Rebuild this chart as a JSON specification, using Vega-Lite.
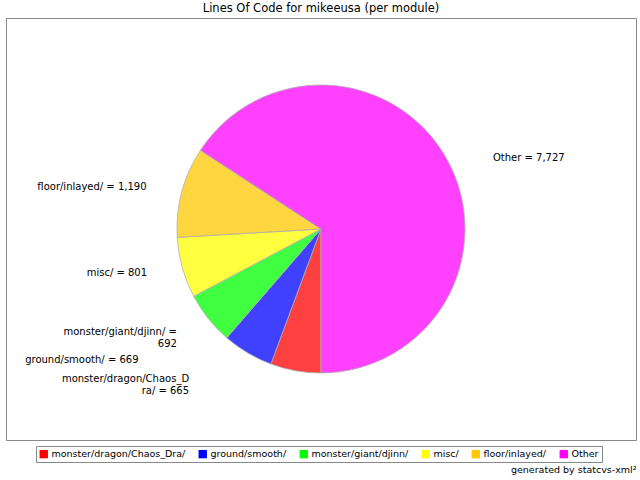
{
  "$schema": "https://vega.github.io/schema/vega-lite/v6.json",
  "background": "white",
  "padding": {"left": 5, "right": 5, "top": 2, "bottom": 3},
  "title": {"text": "generated by statcvs-xml²", "orient": "bottom", "anchor": "end", "fontSize": 9.5, "fontWeight": "normal", "font": "DejaVu Sans", "offset": 2, "color": "#000000"},
  "config": {"font": "DejaVu Sans"},
  "vconcat": [
    {
      "title": {"text": "Lines Of Code for mikeeusa (per module)", "fontSize": 11.5, "fontWeight": "normal", "offset": 4, "color": "#000000"},
      "width": 630,
      "height": 422,
      "view": {"stroke": "#888888", "fill": "white"},
      "data": {
        "values": [
          {"module": "monster/dragon/Chaos_Dra/", "value": 665, "label": "monster/dragon/Chaos_D\nra/ = 665"},
          {"module": "ground/smooth/", "value": 669, "label": "ground/smooth/ = 669"},
          {"module": "monster/giant/djinn/", "value": 692, "label": "monster/giant/djinn/ =\n692"},
          {"module": "misc/", "value": 801, "label": "misc/ = 801"},
          {"module": "floor/inlayed/", "value": 1190, "label": "floor/inlayed/ = 1,190"},
          {"module": "Other", "value": 7727, "label": "Other = 7,727"}
        ]
      },
      "encoding": {
        "theta": {"field": "value", "type": "quantitative", "stack": true, "scale": {"range": [3.14159265, 9.42477796]}},
        "order": {"field": "value", "type": "quantitative", "sort": "ascending"}
      },
      "layer": [
        {
          "mark": {"type": "arc", "outerRadius": 144, "fillOpacity": 0.75, "stroke": "#b0b0b0", "strokeWidth": 0.8},
          "encoding": {
            "color": {
              "field": "module", "type": "nominal",
              "scale": {
                "domain": ["monster/dragon/Chaos_Dra/", "ground/smooth/", "monster/giant/djinn/", "misc/", "floor/inlayed/", "Other"],
                "range": ["#FF0000", "#0000FF", "#00FF00", "#FFFF00", "#FFC800", "#FF00FF"]
              },
              "legend": {
                "orient": "none", "legendX": 30, "legendY": 428, "direction": "horizontal", "title": null,
                "symbolType": "square", "symbolSize": 70, "symbolOpacity": 1, "symbolStrokeWidth": 0,
                "labelFontSize": 9.5, "labelLimit": 300, "labelColor": "#000000",
                "strokeColor": "#888888", "padding": 3, "columnPadding": 12, "labelOffset": 3
              }
            }
          }
        },
        {
          "mark": {"type": "text", "radius": 165, "dx": -15, "align": "right", "baseline": "middle", "fontSize": 10, "lineBreak": "\n", "color": "#000000"},
          "encoding": {
            "text": {"condition": {"test": "indexof(['floor/inlayed/','misc/','monster/giant/djinn/'], datum.module) >= 0", "field": "label"}, "value": ""}
          }
        },
        {
          "mark": {"type": "text", "radius": 152, "dx": -105, "align": "right", "baseline": "middle", "fontSize": 10, "lineBreak": "\n", "color": "#000000"},
          "encoding": {
            "text": {"condition": {"test": "indexof(['ground/smooth/','monster/dragon/Chaos_Dra/'], datum.module) >= 0", "field": "label"}, "value": ""}
          }
        },
        {
          "mark": {"type": "text", "radius": 150, "dx": 40, "align": "left", "baseline": "middle", "fontSize": 10, "color": "#000000"},
          "encoding": {
            "text": {"condition": {"test": "datum.module == 'Other'", "field": "label"}, "value": ""}
          }
        }
      ]
    }
  ]
}
